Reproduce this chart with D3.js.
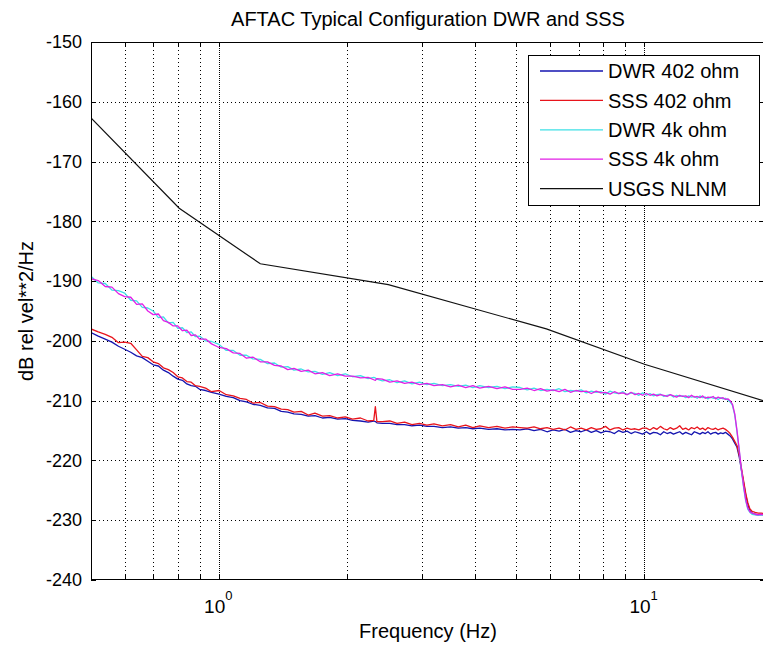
<!DOCTYPE html>
<html><head><meta charset="utf-8">
<script src="https://cdn.jsdelivr.net/npm/d3@7"></script>
<style>
body{margin:0;background:#fff}
svg{display:block}
text{font-family:"Liberation Sans",Arial,Helvetica,sans-serif;fill:#000}
</style>
</head><body>
<svg id="chart" width="763" height="646"></svg>
<script>
// ---------------- data ----------------
const freqHz = [0.5,0.52,0.54,0.56,0.58,0.6,0.62,0.64,0.66,0.68,
0.7,0.72,0.74,0.76,0.78,0.8,0.82,0.84,0.86,0.88,
0.9,0.93,0.96,1.0,1.04,1.08,1.12,1.16,1.2,1.25,
1.3,1.35,1.4,1.45,1.5,1.56,1.62,1.68,1.75,1.82,
1.9,1.98,2.06,2.15,2.24,2.31,2.33,2.35,2.42,2.52,2.62,2.73,
2.84,2.96,3.08,3.2,3.35,3.5,3.65,3.8,3.95,4.1,
4.3,4.5,4.7,4.9,
5.1,5.3,5.5,5.7,5.9,6.1,6.3,6.5,6.7,6.9,7.1,7.3,7.5,7.7,7.9,8.1,8.3,8.5,8.7,8.9,9.1,9.3,9.5,9.7,9.9,
10.1,10.3,10.5,10.7,10.9,11.1,11.3,11.5,11.7,11.9,12.1,12.3,12.5,12.7,12.9,13.1,13.3,13.5,13.7,13.9,14.1,14.3,14.5,14.7,14.9,15.1,15.3,15.5,
15.7,15.9,16.1,16.3,16.5,16.7,16.9,17.1,17.3,17.5,17.7,17.9,18.2,18.5,18.8,19.2];

const dwr402 = [-198.6,-199.2,-199.7,-200.2,-200.9,-201.4,-201.9,-202.5,-202.8,-203.4,
-204.0,-204.2,-204.9,-205.3,-205.9,-206.4,-206.6,-207.2,-207.5,-207.6,
-208.1,-208.3,-208.6,-208.9,-209.3,-209.5,-210.0,-210.2,-210.6,-210.8,
-211.2,-211.3,-211.8,-211.9,-212.2,-212.3,-212.6,-212.5,-212.9,-212.8,
-213.1,-213.0,-213.3,-213.4,-213.6,-213.4,-213.5,-213.7,-213.8,-213.8,-214.0,-214.0,
-214.2,-214.1,-214.3,-214.3,-214.5,-214.4,-214.6,-214.5,-214.7,-214.6,
-214.8,-214.7,-214.9,-214.8,
-214.9,-214.7,-215.0,-214.8,-215.2,-214.9,-215.1,-214.8,-215.3,-215.0,-215.2,-214.9,-215.3,-215.0,-215.4,-215.1,-215.2,-215.5,-215.0,-215.3,-215.1,-215.5,-215.2,-215.4,-215.6,
-215.2,-215.6,-215.3,-215.4,-215.7,-215.2,-215.5,-215.3,-215.6,-215.4,-215.2,-215.6,-215.3,-215.5,-215.7,-215.2,-215.4,-215.6,-215.3,-215.5,-215.2,-215.6,-215.4,-215.3,-215.6,-215.4,-215.5,-215.3,
-215.6,-215.9,-216.4,-217.1,-217.8,-219.4,-221.6,-223.7,-225.8,-227.4,-228.4,-228.8,-229.0,-229.1,-229.0,-229.1];

const sss402 = [-198.0,-198.5,-198.9,-199.4,-200.3,-200.2,-200.4,-201.5,-202.6,-202.8,
-203.5,-203.8,-204.5,-204.8,-205.3,-206.0,-206.2,-206.8,-206.9,-207.5,
-207.6,-207.9,-208.5,-208.3,-209.0,-209.2,-209.6,-209.8,-210.4,-210.3,
-210.9,-211.0,-211.4,-211.5,-211.9,-211.8,-212.4,-212.1,-212.6,-212.5,
-212.9,-212.7,-213.1,-212.9,-213.4,-213.3,-211.0,-213.5,-213.5,-213.4,-213.8,-213.6,
-214.0,-213.8,-214.1,-213.9,-214.2,-214.0,-214.4,-214.1,-214.5,-214.2,
-214.5,-214.3,-214.6,-214.4,
-214.5,-214.6,-214.4,-214.7,-214.5,-214.8,-214.6,-214.9,-214.4,-214.8,-214.6,-214.9,-214.5,-214.8,-214.7,-214.3,-214.9,-214.6,-214.5,-214.9,-214.6,-214.8,-214.7,-214.9,-214.6,
-214.6,-214.9,-214.5,-214.8,-214.3,-214.7,-214.9,-214.5,-214.8,-214.6,-214.2,-214.8,-214.6,-214.9,-214.5,-214.7,-214.4,-214.8,-214.6,-214.9,-214.5,-214.7,-214.8,-214.6,-214.9,-214.7,-214.6,-214.8,
-215.1,-215.5,-216.1,-216.8,-217.5,-219.1,-221.3,-223.4,-225.5,-227.1,-228.1,-228.5,-228.7,-228.8,-228.8,-228.9];

const dwr4k = [-189.2,-190.3,-190.4,-191.5,-191.6,-192.0,-193.2,-193.3,-194.4,-194.5,
-195.0,-196.1,-196.0,-197.0,-196.9,-197.9,-197.8,-198.6,-198.5,-199.3,
-199.2,-200.0,-200.1,-200.6,-201.6,-201.6,-202.4,-202.4,-203.0,-203.1,
-203.8,-203.7,-204.4,-204.3,-204.9,-204.7,-205.2,-205.1,-205.6,-205.3,
-205.8,-205.5,-206.0,-205.8,-206.3,-206.1,-206.2,-206.4,-206.7,-206.5,-207.0,-206.7,
-207.2,-206.9,-207.3,-207.1,-207.5,-207.3,-207.6,-207.4,-207.8,-207.5,
-207.8,-207.6,-208.0,-207.7,
-207.8,-208.2,-207.9,-208.3,-208.1,-208.3,-208.0,-208.5,-208.3,-208.4,-208.2,-208.7,-208.4,-208.6,-208.5,-208.9,-208.4,-208.7,-208.8,-208.5,-209.0,-208.7,-208.8,-209.1,-208.7,
-209.1,-208.8,-209.2,-209.0,-208.9,-209.3,-209.1,-209.0,-209.4,-209.1,-209.3,-209.2,-209.5,-209.2,-209.4,-209.3,-209.6,-209.2,-209.5,-209.4,-209.7,-209.4,-209.6,-209.5,-209.8,-209.5,-209.7,-209.6,
-209.9,-210.2,-210.8,-212.4,-215.2,-218.4,-221.7,-224.5,-226.8,-228.2,-228.7,-229.0,-229.1,-229.2,-229.1,-229.2];

const sss4k = [-189.6,-189.9,-190.9,-191.0,-192.1,-192.6,-192.7,-193.9,-193.8,-195.0,
-195.6,-195.5,-196.6,-196.9,-197.5,-197.5,-198.3,-198.2,-199.1,-199.0,
-199.7,-199.7,-200.5,-201.1,-201.3,-202.0,-202.1,-202.9,-202.7,-203.5,
-203.5,-204.1,-204.2,-204.8,-204.6,-205.1,-204.9,-205.5,-205.3,-205.8,
-205.5,-205.9,-205.9,-206.2,-206.1,-206.5,-206.6,-206.3,-206.4,-206.9,-206.7,-207.1,
-206.9,-207.3,-207.1,-207.5,-207.3,-207.7,-207.4,-207.8,-207.5,-207.9,
-207.6,-208.0,-207.7,-208.1,
-208.1,-207.9,-208.3,-208.0,-208.4,-208.2,-208.5,-208.1,-208.6,-208.3,-208.5,-208.4,-208.8,-208.4,-208.7,-208.6,-208.9,-208.5,-208.8,-208.7,-209.0,-208.6,-209.0,-208.8,-209.1,
-208.8,-209.1,-208.9,-209.2,-209.0,-209.1,-209.3,-209.0,-209.2,-209.4,-209.1,-209.3,-209.2,-209.5,-209.1,-209.4,-209.3,-209.5,-209.2,-209.6,-209.4,-209.5,-209.3,-209.7,-209.4,-209.6,-209.5,-209.8,
-209.7,-210.0,-210.6,-212.2,-215.0,-218.2,-221.5,-224.3,-226.6,-228.0,-228.6,-228.8,-229.0,-229.1,-229.0,-229.1];

const nlnmFreq = [0.5, 0.806, 1.25, 2.5, 5.88, 10, 19.2];
const nlnmDb   = [-162.7, -177.8, -187.1, -190.6, -198.0, -203.9, -210.1];

const yTicks = [-150,-160,-170,-180,-190,-200,-210,-220,-230,-240];
const xMajorTicks = [1, 10];
const xMinorTicks = [0.6,0.7,0.8,0.9,2,3,4,5,6,7,8,9];
const xDomain = [0.5, 19.2];
const yDomain = [-240, -150];

const seriesNames  = ["DWR 402 ohm","SSS 402 ohm","DWR 4k ohm","SSS 4k ohm","USGS NLNM"];
const seriesColors = ["#1515b0","#e8141c","#3ee0e6","#e21ee6","#111111"];

const titleText = "AFTAC Typical Configuration DWR and SSS";
const xLabelText = "Frequency (Hz)";
const yLabelText = "dB rel vel**2/Hz";

// ---------------- layout ----------------
const W = 763, H = 646;
const L = 91, R = 765, T = 42, B = 580;

const svg = d3.select("#chart");
svg.append("rect").attr("width", W).attr("height", H).attr("fill", "#fff");

const x = d3.scaleLog().domain(xDomain).range([L, R]);
const y = d3.scaleLinear().domain(yDomain).range([B, T]);

const px = v => Math.round(v) + 0.5;

svg.append("rect").attr("x", L).attr("y", T).attr("width", R - L).attr("height", B - T).attr("fill", "#fff");

// grid
const grid = svg.append("g").attr("shape-rendering", "crispEdges");
grid.selectAll(".hg").data(yTicks.filter(v => v > -240 && v < -150)).enter().append("line")
  .attr("x1", L).attr("x2", R).attr("y1", d => px(y(d))).attr("y2", d => px(y(d)))
  .attr("stroke", "#000").attr("stroke-width", 1).attr("stroke-dasharray", "1,3");
grid.selectAll(".vg").data(xMinorTicks.concat(xMajorTicks)).enter().append("line")
  .attr("x1", d => px(x(d))).attr("x2", d => px(x(d))).attr("y1", T).attr("y2", B)
  .attr("stroke", "#000").attr("stroke-width", 1).attr("stroke-dasharray", "1,3");
grid.selectAll(".vgm").data(xMajorTicks).enter().append("line")
  .attr("x1", d => px(x(d))).attr("x2", d => px(x(d))).attr("y1", T + 2).attr("y2", B)
  .attr("stroke", "#000").attr("stroke-width", 1).attr("stroke-dasharray", "1,3");

// data lines
svg.append("defs").append("clipPath").attr("id", "plotclip")
  .append("rect").attr("x", L).attr("y", T).attr("width", R - L).attr("height", B - T);

const line = d3.line().x(d => x(d[0])).y(d => y(d[1]));
const seriesValues = [dwr402, sss402, dwr4k, sss4k];
const plotG = svg.append("g").attr("clip-path", "url(#plotclip)");
seriesValues.forEach((vals, i) => {
  const pts = freqHz.map((f, k) => [f, vals[k]]);
  plotG.append("path").datum(pts).attr("d", line)
    .attr("fill", "none").attr("stroke", seriesColors[i]).attr("stroke-width", 1.3)
    .attr("stroke-linejoin", "round");
});
plotG.append("path").datum(nlnmFreq.map((f, k) => [f, nlnmDb[k]])).attr("d", line)
  .attr("fill", "none").attr("stroke", seriesColors[4]).attr("stroke-width", 1.2);

// axes (ticks inward)
const allX = xMinorTicks.concat(xMajorTicks);
function styleAxis(g) {
  g.attr("font-family", null).attr("font-size", null);
  g.selectAll(".domain").remove();
  g.selectAll(".tick line").attr("stroke", "#000").attr("shape-rendering", "crispEdges");
}
svg.append("g").attr("transform", `translate(0,${B})`)
  .call(d3.axisBottom(x).tickValues(allX).tickSize(-5).tickFormat("")).call(styleAxis);
svg.append("g").attr("transform", `translate(0,${T})`)
  .call(d3.axisTop(x).tickValues(allX).tickSize(-5).tickFormat("")).call(styleAxis);
const yAxisG = svg.append("g").attr("transform", `translate(${L},0)`)
  .call(d3.axisLeft(y).tickValues(yTicks).tickSize(-5).tickPadding(9).tickFormat(d => String(d)))
  .call(styleAxis);
yAxisG.selectAll(".tick text").attr("font-size", 18).attr("fill", "#000");
svg.append("g").attr("transform", `translate(${R},0)`)
  .call(d3.axisRight(y).tickValues(yTicks).tickSize(-5).tickFormat("")).call(styleAxis);

// axes box
svg.append("rect").attr("x", L + 0.5).attr("y", T + 0.5).attr("width", R - L - 1).attr("height", B - T - 1)
  .attr("fill", "none").attr("stroke", "#000").attr("stroke-width", 1).attr("shape-rendering", "crispEdges");

// x tick labels 10^n
xMajorTicks.forEach(v => {
  const t = svg.append("text").attr("x", x(v) - 15).attr("y", 613).attr("font-size", 19);
  t.append("tspan").text("10");
  t.append("tspan").attr("font-size", 13).attr("dy", -13).text(String(Math.round(Math.log10(v))));
});

// title and labels
svg.append("text").attr("x", (L + R) / 2).attr("y", 26).attr("text-anchor", "middle")
  .attr("font-size", 20).text(titleText);
svg.append("text").attr("x", (L + R) / 2).attr("y", 638).attr("text-anchor", "middle")
  .attr("font-size", 20).text(xLabelText);
svg.append("text").attr("transform", `translate(33,${(T + B) / 2}) rotate(-90)`)
  .attr("text-anchor", "middle").attr("font-size", 20).text(yLabelText);

// legend
const lg = svg.append("g");
lg.append("rect").attr("x", 528.5).attr("y", 55.5).attr("width", 231).attr("height", 150)
  .attr("fill", "#fff").attr("stroke", "#000").attr("stroke-width", 1).attr("shape-rendering", "crispEdges");
seriesNames.forEach((name, i) => {
  const yy = 71 + i * 29.4;
  lg.append("line").attr("x1", 540).attr("x2", 603).attr("y1", yy).attr("y2", yy)
    .attr("stroke", seriesColors[i]).attr("stroke-width", 1.3);
  lg.append("text").attr("x", 608).attr("y", yy).attr("dy", "0.36em").attr("font-size", 20).text(name);
});
</script>
</body></html>
